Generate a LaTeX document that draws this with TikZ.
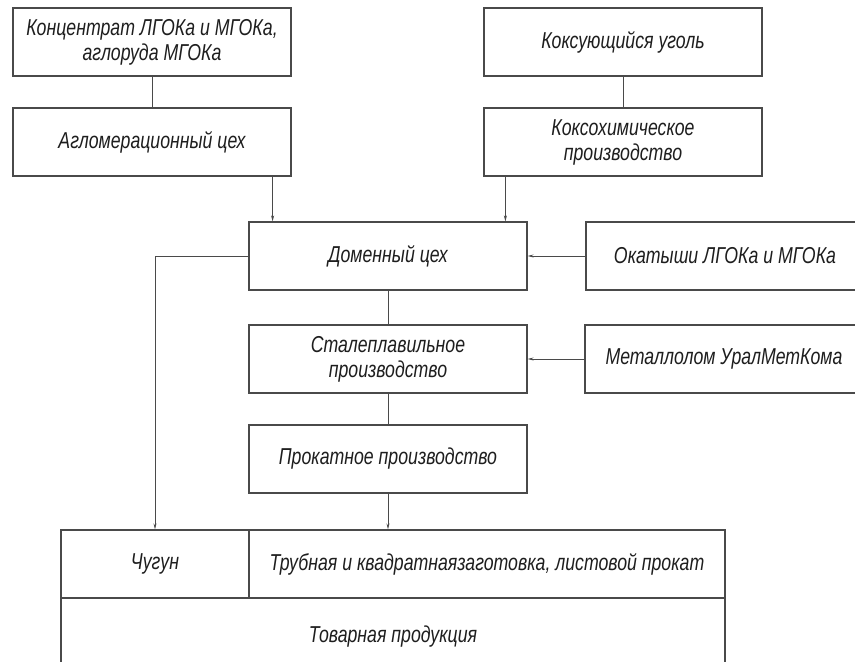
\documentclass[tikz,border=0pt]{standalone}
\usepackage{fontspec}
\newfontfamily\gostfont{Liberation Sans}[FakeStretch=0.77]
\usepackage{tikz}
\usetikzlibrary{arrows.meta}
\usetikzlibrary{calc}
\definecolor{boxclr}{HTML}{4A4A4A}
\definecolor{txtclr}{HTML}{1E1E1E}

\begin{document}
\begin{tikzpicture}[x=1pt,y=-1pt,
  box/.style={draw=boxclr,line width=1.2pt,minimum width=278pt,minimum height=68pt,
    inner sep=0pt,align=center,text=txtclr,font=\gostfont\itshape\fontsize{23}{25}\selectfont},
  link/.style={draw=boxclr,line width=0.8pt},
  arr/.style={link,-{Stealth[length=6pt,width=3pt]}}]

  \path[use as bounding box,fill=white] (0,0) rectangle (855,662);
  \clip (0,0) rectangle (855,662);

  % Nodes
  \node[box] (conc) at (152,42) {Концентрат ЛГОКа и МГОКа,\\аглоруда МГОКа};
  \node[box] (aglo) at (152,142) {Агломерационный цех};
  \node[box] (coal) at (623,42) {Коксующийся уголь};
  \node[box] (coke) at (623,142) {Коксохимическое\\производство};
  \node[box] (blast) at (388,256) {Доменный цех};
  \node[box] (pellet) at (725,256) {Окатыши ЛГОКа и МГОКа};
  \node[box] (steel) at (388,359) {Сталеплавильное\\производство};
  \node[box] (scrap) at (724,359) {Металлолом УралМетКома};
  \node[box] (roll) at (388,459) {Прокатное производство};
  \node[box,minimum width=188pt] (iron) at (155,564) {Чугун};
  \node[box,minimum width=476pt] (pipe) at (487,564) {Трубная и квадратнаязаготовка, листовой прокат};
  \node[box,minimum width=664pt,minimum height=78pt] (goods) at (393,637) {Товарная продукция};

  % Connections
  \draw[link] (conc.south) -- (aglo.north);
  \draw[link] (coal.south) -- (coke.north);
  \draw[arr] ($(aglo.south east)+(-19,0)$) coordinate (a1) -- (a1 |- blast.north);
  \draw[arr] ($(coke.south west)+(22,0)$) coordinate (c1) -- (c1 |- blast.north);
  \draw[arr] (pellet.west) -- (blast.east);
  \draw[arr] (blast.west) -| (iron.north);
  \draw[link] (blast.south) -- (steel.north);
  \draw[arr] (scrap.west) -- (steel.east);
  \draw[link] (steel.south) -- (roll.north);
  \draw[arr] (roll.south) -- (roll.south |- pipe.north);

\end{tikzpicture}
\end{document}
